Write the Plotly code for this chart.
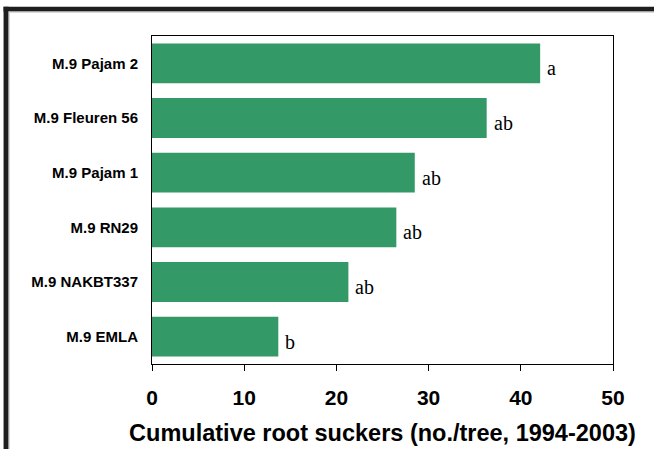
import plotly.graph_objects as go

# Rootstock clones and their cumulative root-sucker counts
rootstocks = ["M.9 Pajam 2", "M.9 Fleuren 56", "M.9 Pajam 1",
              "M.9 RN29", "M.9 NAKBT337", "M.9 EMLA"]
suckers = [42.1, 36.3, 28.5, 26.5, 21.3, 13.7]
groups = ["a", "ab", "ab", "ab", "ab", "b"]
x_ticks = [0, 10, 20, 30, 40, 50]

BAR_GREEN = "#339966"

fig = go.Figure(
    go.Bar(
        x=suckers,
        y=rootstocks,
        orientation="h",
        marker=dict(color=BAR_GREEN, line=dict(width=0)),
        hoverinfo="x+y",
    )
)

# significance letters to the right of each bar
for val, name, grp in zip(suckers, rootstocks, groups):
    fig.add_annotation(
        x=val, y=name, text=grp, showarrow=False,
        xanchor="left", yanchor="middle", xshift=5, yshift=-5,
        font=dict(family="Liberation Serif, Times New Roman, serif",
                  size=20, color="black"),
    )

# outer frame: heavy black rule on top and left with a faint grey edge
frame = [
    dict(x0=-0.322, x1=1.1, y0=1.0745, y1=1.0895, color="#1f1d1d"),
    dict(x0=-0.322, x1=-0.311, y0=-0.26, y1=1.0895, color="#1f1d1d"),
    dict(x0=-0.311, x1=1.1, y0=1.0715, y1=1.0745, color="#b5b5b5"),
    dict(x0=-0.311, x1=-0.3085, y0=-0.26, y1=1.0745, color="#cfcfcf"),
]
for f in frame:
    fig.add_shape(type="rect", xref="paper", yref="paper",
                  x0=f["x0"], x1=f["x1"], y0=f["y0"], y1=f["y1"],
                  fillcolor=f["color"], line=dict(width=0), layer="above")

fig.update_layout(
    width=654,
    height=449,
    margin=dict(l=152, r=41, t=36, b=85),
    paper_bgcolor="white",
    plot_bgcolor="white",
    bargap=0.27,
    showlegend=False,
    font=dict(family="Liberation Sans, Arial, sans-serif", color="black"),
    xaxis=dict(
        range=[0, 50],
        tickvals=x_ticks,
        ticktext=[str(t) for t in x_ticks],
        ticks="outside",
        ticklen=6,
        tickcolor="black",
        tickwidth=1,
        ticklabelstandoff=9,
        automargin=False,
        tickfont=dict(size=21, family="Liberation Sans, Arial, sans-serif",
                      weight="bold"),
        showgrid=False,
        zeroline=False,
        showline=True,
        linecolor="black",
        linewidth=1,
        mirror=True,
        title=dict(
            text="Cumulative root suckers (no./tree, 1994-2003)",
            font=dict(size=23.5, family="Liberation Sans, Arial, sans-serif",
                      weight="bold"),
            standoff=16,
        ),
    ),
    yaxis=dict(
        categoryorder="array",
        categoryarray=rootstocks,
        autorange="reversed",
        ticks="",
        ticklabelstandoff=10,
        automargin=False,
        tickfont=dict(size=15, family="Liberation Sans, Arial, sans-serif",
                      weight="bold"),
        showgrid=False,
        zeroline=False,
        showline=True,
        linecolor="black",
        linewidth=1,
        mirror=True,
    ),
)

fig.write_html("out.html")
